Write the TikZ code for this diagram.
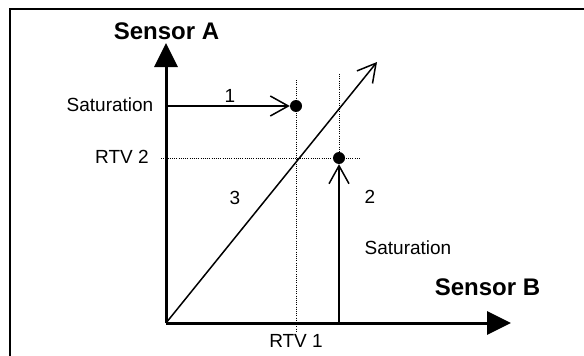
\documentclass[tikz,border=0pt]{standalone}
\usepackage{fontspec}
\setmainfont{Liberation Sans}
\usetikzlibrary{arrows.meta}
\begin{document}
\begin{tikzpicture}[x=1pt,y=-1pt,
  frameline/.style={line width=2pt},
  axisline/.style={line width=3pt,-{Triangle[length=24pt,width=23pt]}},
  thinarrow/.style={line width=1.5pt,-{Straight Barb[length=18pt,width=20pt]}},
  dotline/.style={line width=1pt,dash pattern=on 1pt off 1.2pt},
  lbl/.style={font=\fontsize{19}{22}\selectfont,inner sep=0pt},
  axlbl/.style={font=\fontsize{24}{28}\selectfont\bfseries,inner sep=0pt},
  blob/.style={circle,fill=black,minimum size=12pt,inner sep=0pt}]
\useasboundingbox (0,0) rectangle (584,356);
% frame (top and left sides visible)
\coordinate (fTL) at (10,9);
\coordinate (fTR) at (585,9);
\coordinate (fBL) at (10,357);
\draw[frameline] (fTR) -- (fTL) -- (fBL);
% axes
\coordinate (O) at (166,323);
\coordinate (Ytip) at (166,43);
\coordinate (Xtip) at (511,323);
% dots
\node[blob] (d1) at (296,106) {};
\node[blob] (d2) at (339,158) {};
% dotted guides
\coordinate (v1t) at (296,80);
\coordinate (v1b) at (296,331);
\coordinate (v2t) at (339,74);
\coordinate (h2l) at (161,158);
\coordinate (h2r) at (361,158);
\draw[dotline] (v1t) -- (v1b);
\draw[dotline] (v2t) -- (d2);
\draw[dotline] (h2l) -- (h2r);
% axes drawn
\draw[axisline] (O) -- (Ytip);
\draw[axisline] (O) -- (Xtip);
% arrows
\coordinate (a1s) at (166,106);
\coordinate (a2s) at (339,323);
\coordinate (a3t) at (377,62);
\draw[thinarrow] (a1s) -- (d1.west);
\draw[thinarrow] (a2s) -- (d2.south);
\draw[thinarrow] (O) -- (a3t);
% labels
\node[axlbl] (sa) at (166.5,31) {Sensor A};
\node[axlbl] (sb) at (487.5,287) {Sensor B};
\node[lbl] (sat1) at (110,104.5) {Saturation};
\node[lbl] (sat2) at (408,248) {Saturation};
\node[lbl] (rtv2) at (122,157) {RTV 2};
\node[lbl] (rtv1) at (296,341) {RTV 1};
\node[lbl] (n1) at (230,96) {1};
\node[lbl] (n2) at (370,197) {2};
\node[lbl] (n3) at (235,198) {3};
\end{tikzpicture}
\end{document}
